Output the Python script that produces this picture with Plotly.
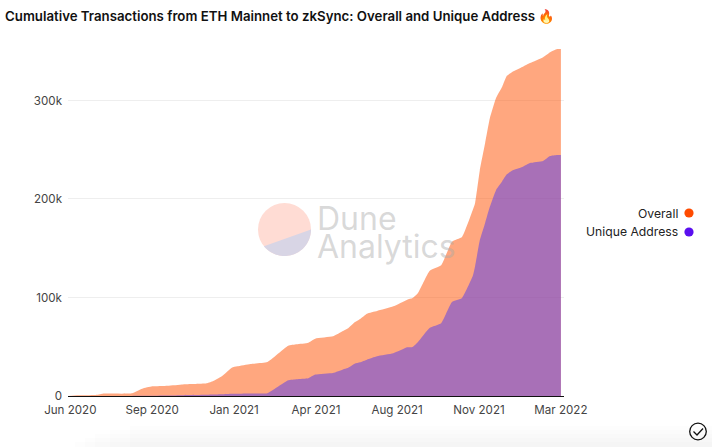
import numpy as np
import pandas as pd
import plotly.graph_objects as go

WIDTH = 712
HEIGHT = 447

title = "Cumulative Transactions from ETH Mainnet to zkSync: Overall and Unique Address 🔥"

# days after 1 Jun 2020
days = [0, 12, 35, 45, 83, 96, 109, 129, 149, 180, 188, 199, 212, 219, 236, 258, 285, 296, 311, 320,
        343, 356, 362, 371, 378, 387, 400, 421, 439, 446, 453, 468, 483, 497, 510, 524, 527, 533, 540,
        546, 554, 562, 568, 575, 588, 598, 615, 624, 633, 638]
overall = [0, 700, 1000, 2400, 2700, 7400, 9800, 10500, 11800, 12900, 15200, 20000, 28800, 30100, 32500,
           34500, 51000, 52500, 54100, 58200, 60600, 66000, 68400, 74800, 78200, 83600, 86300, 91000, 97800,
           99500, 104600, 127000, 132700, 156700, 161400, 189000, 196000, 229000, 257000, 282000, 302500,
           314000, 325000, 329000, 334000, 338000, 344000, 349000, 352300, 352300]
unique = [0, 0, 0, 0, 100, 200, 300, 500, 800, 1200, 1400, 1700, 2200, 2400, 2600, 2800, 15900, 17000,
          18000, 21700, 23400, 27000, 28400, 32800, 34200, 36900, 40300, 43300, 49400, 49700, 54800, 69000,
          73800, 95400, 99500, 122000, 132000, 158000, 176000, 192000, 209000, 218000, 225000, 229000,
          232500, 236500, 238600, 243600, 244700, 244700]

tick_dates = ["2020-06-04", "2020-09-18", "2021-01-02", "2021-04-18", "2021-08-01", "2021-11-15", "2022-03-01"]
tick_labels = ["Jun 2020", "Sep 2020", "Jan 2021", "Apr 2021", "Aug 2021", "Nov 2021", "Mar 2022"]
y_ticks = [0, 100000, 200000, 300000]
y_labels = ["0", "100k", "200k", "300k"]

series_names = ["Overall", "Unique Address"]
legend_colors = ["#ff4b00", "#5a0fef"]

FONT = "Inter"
dates = pd.Timestamp("2020-06-01") + pd.to_timedelta(days, unit="D")


def px(x):
    return x / WIDTH


def py(y):
    return 1 - y / HEIGHT


def circle(cx, cy, r, **kwargs):
    return dict(type="circle", xref="paper", yref="paper", x0=px(cx - r), x1=px(cx + r),
                y0=py(cy + r), y1=py(cy - r), **kwargs)


fig = go.Figure()
fig.add_trace(go.Scatter(x=dates, y=overall, name=series_names[0], mode="lines",
                         line=dict(width=0, shape="spline", smoothing=0.4),
                         fill="tozeroy", fillcolor="rgba(255,80,0,0.5)", hoverinfo="x+y"))
fig.add_trace(go.Scatter(x=dates, y=unique, name=series_names[1], mode="lines",
                         line=dict(width=0, shape="spline", smoothing=0.4),
                         fill="tozeroy", fillcolor="rgba(110,75,220,0.6)", hoverinfo="x+y"))

# lower slice of the watermark logo
angles = np.radians(np.linspace(0, 141, 40))
slice_path = "M" + "L".join(f"{px(284.5 + 26.5 * np.cos(a)):.4f},{py(229.5 + 26.5 * np.sin(a)):.4f}" for a in angles) + "Z"

shapes = [
    circle(284.5, 229.5, 26.5, fillcolor="#ffdcd4", line_width=0, layer="above"),
    dict(type="path", xref="paper", yref="paper", path=slice_path, fillcolor="#d8d5e5", line_width=0, layer="above"),
    # legend dots
    circle(689, 213, 4.6, fillcolor=legend_colors[0], line_width=0),
    circle(689, 232, 4.6, fillcolor=legend_colors[1], line_width=0),
    # check icon
    circle(698, 431.5, 8.3, fillcolor="rgba(0,0,0,0)", line=dict(color="#111111", width=1.3)),
    dict(type="path", xref="paper", yref="paper",
         path=f"M{px(693.5)},{py(431.5)}L{px(697)},{py(435)}L{px(703)},{py(428.5)}",
         line=dict(color="#111111", width=1.3)),
]
# faint grey fade along the bottom edge
for top, left in [(426, 130), (430, 110), (434, 95), (438, 85), (442, 75)]:
    shapes.append(dict(type="rect", xref="paper", yref="paper", x0=px(left), x1=1, y0=0, y1=py(top),
                       fillcolor="rgba(0,0,0,0.006)", line_width=0, layer="below"))

annotations = [
    dict(text="Dune", x=px(315), y=py(218), showarrow=False, xanchor="left", yanchor="middle",
         font=dict(family=FONT, size=32, color="rgba(170,170,170,0.45)")),
    dict(text="Analytics", x=px(315), y=py(246), showarrow=False, xanchor="left", yanchor="middle",
         font=dict(family=FONT, size=32, color="rgba(170,170,170,0.45)")),
    dict(text=series_names[0], x=px(680), y=py(213), showarrow=False, xanchor="right", yanchor="middle",
         font=dict(family=FONT, size=12.2, color="#222222")),
    dict(text=series_names[1], x=px(680), y=py(232), showarrow=False, xanchor="right", yanchor="middle",
         font=dict(family=FONT, size=12.2, color="#222222")),
]
for a in annotations:
    a.update(xref="paper", yref="paper")

fig.update_layout(
    width=WIDTH,
    height=HEIGHT,
    margin=dict(l=0, r=0, t=0, b=0),
    paper_bgcolor="white",
    plot_bgcolor="white",
    showlegend=False,
    title=dict(text=title, x=px(5), y=py(16), xanchor="left", yanchor="middle", automargin=False,
               font=dict(family=FONT, size=13.25, color="#111111", weight=600)),
    xaxis=dict(
        automargin=False,
        domain=[px(68), px(564)],
        range=["2020-06-01", "2022-03-05"],
        tickvals=tick_dates,
        ticktext=tick_labels,
        showgrid=False,
        showline=True,
        linecolor="#111111",
        linewidth=1,
        ticks="",
        ticklabelstandoff=3,
        tickfont=dict(family=FONT, size=11.6, color="#444444"),
    ),
    yaxis=dict(
        automargin=False,
        domain=[py(396), py(47)],
        range=[0, 354300],
        tickvals=y_ticks,
        ticktext=y_labels,
        gridcolor="#eeeeee",
        zeroline=False,
        ticks="",
        ticklabelstandoff=5,
        tickfont=dict(family=FONT, size=11.6, color="#444444"),
    ),
    shapes=shapes,
    annotations=annotations,
)

fig.write_html("out.html", config=dict(displayModeBar=False), post_script="document.body.style.margin = '0';")
